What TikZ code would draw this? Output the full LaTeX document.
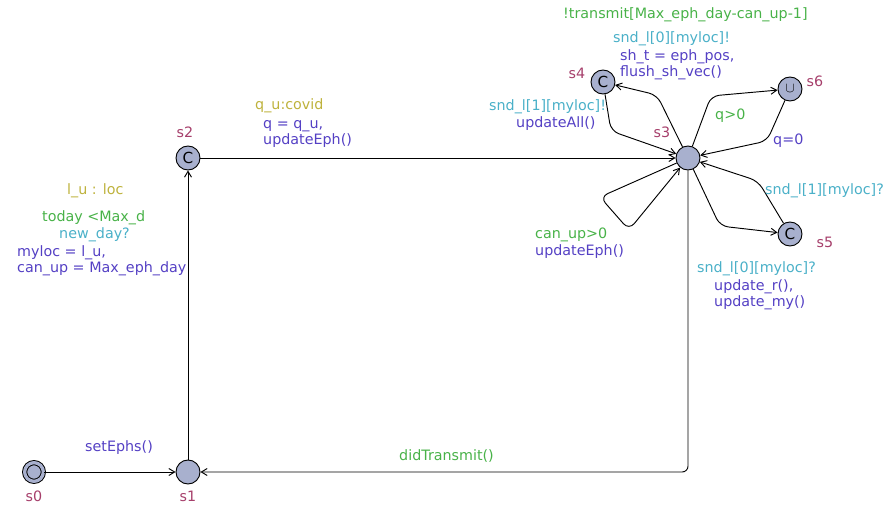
\documentclass[tikz,border=0pt]{standalone}
\usepackage{fontspec}
\setmainfont{DejaVu Sans}
\usetikzlibrary{arrows.meta}

\definecolor{locfill}{RGB}{168,176,206}
\definecolor{locname}{RGB}{166,63,107}
\definecolor{guardc}{RGB}{72,178,72}
\definecolor{syncc}{RGB}{74,176,200}
\definecolor{updc}{RGB}{84,64,196}
\definecolor{selc}{RGB}{190,178,60}

\begin{document}
\begin{tikzpicture}[x=0.03cm, y=-0.03cm,
    every node/.style={font=\fontsize{12.2}{14.5}\selectfont},
    loc/.style={circle, draw, fill=locfill, minimum size=0.72cm, inner sep=0pt, line width=0.8pt, font=\fontsize{13}{14}\selectfont},
    initloc/.style={loc, double=locfill, double distance=2.8pt, minimum size=0.56cm},
    edge/.style={draw, line width=0.8pt, -{Straight Barb[length=5pt,width=6pt]}, rounded corners=7pt},
    lname/.style={text=locname, inner sep=0pt},
    lab/.style={anchor=base west, inner sep=0pt, align=left},
    guard/.style={lab, text=guardc},
    sync/.style={lab, text=syncc},
    upd/.style={lab, text=updc},
    sel/.style={lab, text=selc}]
        \useasboundingbox (0,0) rectangle (887,512);

        % Draw the locations
        \node[initloc] (s0) at (34,472) {};
        \node[loc] (s1) at (188,472) {};
        \node[loc] (s2) at (188,158) {C};
        \node[loc] (s3) at (688,158) {};
        \node[loc] (s4) at (603,82) {C};
        \node[loc] (s6) at (790,89) {$\cup$};
        \node[loc] (s5) at (790,234) {C};

        % Location names
        \node[lname] (n0) at (34,496) {s0};
        \node[lname] (n1) at (188,496) {s1};
        \node[lname] (n2) at (185,132) {s2};
        \node[lname] (n3) at (662,132) {s3};
        \node[lname] (n4) at (577,73) {s4};
        \node[lname] (n6) at (815,81) {s6};
        \node[lname] (n5) at (825,242) {s5};

        % Bend points of the edges
        \coordinate (b31) at (688,472);
        \coordinate (b34) at (657,95);
        \coordinate (b43) at (611,131);
        \coordinate (b36) at (711,96);
        \coordinate (b63) at (767,141);
        \coordinate (b35) at (720,226);
        \coordinate (b53) at (758,181);
        \coordinate (la) at (600,197);
        \coordinate (lb) at (629,230);

        % Draw the edges
        \draw[edge] (s0) -- (s1);
        \draw[edge] (s1) -- (s2);
        \draw[edge] (s2) -- (s3);
        \draw[edge, rounded corners=5pt] (s3) -- (b31) -- (s1);
        \draw[edge] (s3) -- (b34) -- (s4);
        \draw[edge] (s4) -- (b43) -- (s3);
        \draw[edge] (s3) -- (b36) -- (s6);
        \draw[edge] (s6) -- (b63) -- (s3);
        \draw[edge] (s3) -- (b35) -- (s5);
        \draw[edge] (s5) -- (b53) -- (s3);
        \draw[edge] (s3) -- (la) -- (lb) -- (s3);

        % Edge labels (multi-line ones sit on their last line)
        \node[upd] (e01) at (85,452) {setEphs()};
        \node[sel] (e12s) at (67,195) {l\_u : loc};
        \node[guard] (e12g) at (42,222) {today <Max\_d};
        \node[sync] (e12y) at (59,239) {new\_day?};
        \node[upd] (e12u) at (17,273) {myloc = l\_u,\\can\_up = Max\_eph\_day};
        \node[sel] (e23s) at (255,110) {q\_u:covid};
        \node[upd] (e23u) at (263,145) {q = q\_u,\\updateEph()};
        \node[guard] (e31g) at (399,460) {didTransmit()};
        \node[guard] (e34g) at (563,19) {!transmit[Max\_eph\_day-can\_up-1]};
        \node[sync] (e34y) at (613,43) {snd\_l[0][myloc]!};
        \node[upd] (e34u) at (620,77) {sh\_t = eph\_pos,\\flush\_sh\_vec()};
        \node[sync] (e43y) at (489,111) {snd\_l[1][myloc]!};
        \node[upd] (e43u) at (516,128) {updateAll()};
        \node[guard] (e36g) at (715,120) {q>0};
        \node[upd] (e63u) at (773,145) {q=0};
        \node[sync] (e53y) at (765,195) {snd\_l[1][myloc]?};
        \node[guard] (e33g) at (535,239) {can\_up>0};
        \node[upd] (e33u) at (535,256) {updateEph()};
        \node[sync] (e35y) at (697,273) {snd\_l[0][myloc]?};
        \node[upd] (e35u) at (714,307) {update\_r(),\\update\_my()};
\end{tikzpicture}
\end{document}
